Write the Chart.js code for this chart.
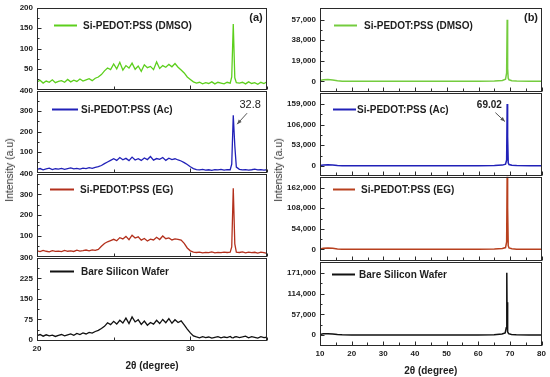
<!DOCTYPE html>
<html>
<head>
<meta charset="utf-8">
<script src="https://cdn.jsdelivr.net/npm/chart.js@4/dist/chart.umd.min.js"></script>
<style>
  html, body { margin: 0; padding: 0; background: #fff; }
  #fig { position: relative; width: 550px; height: 377px; overflow: hidden; font-family: "Liberation Sans", Arial, sans-serif; }
  .panel { position: absolute; }
  .ytitle { position: absolute; font-size: 10.5px; color: #333; white-space: nowrap; transform: translate(-50%, -50%) rotate(-90deg); }
</style>
</head>
<body>
<div id="fig"></div>
<script>
// ---- (a) low-angle scans, 2θ 20–35 ----
const thetaA = [
  20.0, 20.2, 20.4, 20.6, 20.8, 21.0, 21.2, 21.4, 21.6, 21.8,
  22.0, 22.2, 22.4, 22.6, 22.8, 23.0, 23.2, 23.4, 23.6, 23.8,
  24.0, 24.2, 24.4, 24.6, 24.8, 25.0, 25.2, 25.4, 25.6, 25.8,
  26.0, 26.2, 26.4, 26.6, 26.8, 27.0, 27.2, 27.4, 27.6, 27.8,
  28.0, 28.2, 28.4, 28.6, 28.8, 29.0, 29.2, 29.4, 29.6, 29.8,
  30.0, 30.2, 30.4, 30.6, 30.8, 31.0, 31.2, 31.4, 31.6, 31.8,
  32.0, 32.2, 32.4, 32.6, 32.7, 32.8, 32.9, 33.0, 33.2, 33.4, 33.6, 33.8,
  34.0, 34.2, 34.4, 34.6, 34.8, 35.0
];
const dmsoA = [
  18, 22, 15, 20, 17, 23, 16, 19, 21, 17,
  24, 18, 22, 19, 25, 20, 23, 26, 21, 27,
  30, 36, 45, 52, 48, 62, 50, 66, 47, 58,
  52, 64, 49, 57, 44, 60, 53, 56, 48, 67,
  51, 58, 54, 61, 55, 63, 54, 47, 40, 30,
  24, 18, 15, 17, 13, 16, 14, 18, 13, 17,
  15, 13, 17, 15, 30, 160, 28, 16, 15, 17, 13, 18,
  14, 16, 12, 17, 14, 18
];
const acA = [
  14, 18, 12, 16, 20, 13, 17, 15, 19, 14,
  18, 21, 16, 19, 15, 20, 18, 22, 19, 24,
  27, 33, 42, 50, 58, 66, 58, 72, 61, 68,
  57, 74, 60, 66, 58, 70, 62, 77, 59, 67,
  63, 72, 58, 69, 62, 66, 60, 55, 47, 38,
  27, 18, 13, 11, 14, 10, 12, 9, 13, 11,
  14, 10, 13, 12, 40, 280, 130, 25, 14, 11, 13, 10,
  12, 15, 11, 13, 10, 12
];
const egA = [
  26, 22, 28, 24, 21, 27, 23, 25, 22, 28,
  24, 26, 23, 29, 25, 27, 30, 26, 31, 28,
  33, 48, 62, 70, 76, 82, 75, 90, 84, 96,
  80, 102, 88, 94, 78, 86, 74, 83, 79, 92,
  81, 98, 85, 89, 79, 84, 82, 78, 62, 40,
  26, 20, 18, 20, 16, 19, 17, 21, 16, 19,
  17, 20, 18, 20, 45, 330, 60, 20, 18, 21, 16, 20,
  17, 19, 15, 20, 17, 14
];
const bareA = [
  16, 20, 14, 19, 15, 18, 13, 17, 20, 15,
  19, 22, 17, 24, 20, 26, 22, 28, 25, 31,
  35, 42, 50, 63, 56, 68, 58, 72, 62, 80,
  60, 84, 66, 74, 57, 69, 54, 64, 58, 72,
  60, 75, 63, 78, 61, 74, 64, 70, 55, 40,
  26, 15, 11, 8, 12, 9, 11, 7, 10, 12,
  8, 11, 9, 13, 9, 8, 11, 12, 9, 11, 14, 8,
  12, 10, 7, 12, 9, 10
];

// ---- (b) wide scans, 2θ 10–80 ----
const thetaB = [10, 11, 12.5, 14, 15.5, 17, 20, 30, 40, 50, 60, 65, 67.5, 68.5, 68.85, 69.02, 69.1, 69.22, 69.35, 69.6, 70.5, 72, 76, 80];
const dmsoB = [800, 1500, 1800, 1400, 700, 300, 200, 150, 150, 150, 200, 400, 900, 2000, 8000, 57000, 30000, 12000, 3000, 1500, 700, 400, 250, 200];
const acB   = [1000, 2500, 3000, 2400, 1200, 600, 400, 300, 300, 300, 400, 900, 2000, 4500, 15000, 159000, 60000, 75000, 8000, 3500, 1500, 800, 500, 400];
const egB   = [1500, 3500, 4000, 3000, 1500, 800, 500, 400, 400, 400, 500, 1200, 2500, 5000, 20000, 205000, 90000, 110000, 10000, 4000, 1800, 900, 600, 500];
const bareB = [1500, 3500, 4000, 3000, 1500, 800, 500, 400, 400, 400, 500, 1200, 3000, 6000, 20000, 171000, 70000, 90000, 9000, 4000, 2000, 1000, 600, 500];

// tick labels
const xTicksA = [20, 30];
const xMarksA = [20, 25, 30, 35];
const xTicksB = [10, 20, 30, 40, 50, 60, 70, 80];
const xMarksB = [10, 15, 20, 25, 30, 35, 40, 45, 50, 55, 60, 65, 70, 75, 80];
const yTicksA = [[50, 100, 150, 200], [100, 200, 300, 400], [100, 200, 300, 400], [0, 75, 150, 225, 300]];
const yTicksB = [[0, 19000, 38000, 57000], [0, 53000, 106000, 159000], [0, 54000, 108000, 162000], [0, 57000, 114000, 171000]];

const labels = ['Si-PEDOT:PSS (DMSO)', 'Si-PEDOT:PSS (Ac)', 'Si-PEDOT:PSS (EG)', 'Bare Silicon Wafer'];
const colorsA = ['#5ccf1c', '#2121b8', '#b3301c', '#111111'];
const colorsB = ['#74cc3e', '#2121b8', '#b8401e', '#111111'];

const PAD = 8;
const AXIS_H = 32;
const fig = document.getElementById('fig');

function arrow(ctx, x1, y1, x2, y2) {
  const ang = Math.atan2(y2 - y1, x2 - x1);
  ctx.beginPath();
  ctx.moveTo(x1, y1);
  ctx.lineTo(x2, y2);
  ctx.stroke();
  ctx.beginPath();
  ctx.moveTo(x2, y2);
  ctx.lineTo(x2 - 5 * Math.cos(ang - 0.4), y2 - 5 * Math.sin(ang - 0.4));
  ctx.lineTo(x2 - 5 * Math.cos(ang + 0.4), y2 - 5 * Math.sin(ang + 0.4));
  ctx.closePath();
  ctx.fill();
}

// frame, inward ticks, in-plot legend and notes
const framePlugin = {
  id: 'frame',
  afterDatasetsDraw(chart, args, o) {
    const { ctx, chartArea: a } = chart;
    const x = chart.scales.x, y = chart.scales.y;
    const L = Math.round(a.left) + 0.5, R = Math.round(a.right) - 0.5;
    const T = Math.round(a.top) + 0.5, B = Math.round(a.bottom) + 0.5;
    ctx.save();
    ctx.strokeStyle = '#2a2a2a';
    ctx.lineWidth = 1;
    ctx.strokeRect(L, T, R - L, B - T);

    ctx.beginPath();
    const yt = o.yMarks;
    yt.forEach((v, i) => {
      const p = Math.round(y.getPixelForValue(v)) + 0.5;
      ctx.moveTo(L, p); ctx.lineTo(L + 4, p);
      if (i > 0) {
        const q = Math.round(y.getPixelForValue((v + yt[i - 1]) / 2)) + 0.5;
        ctx.moveTo(L, q); ctx.lineTo(L + 2, q);
      }
    });
    o.xMarks.forEach(v => {
      const p = Math.round(x.getPixelForValue(v)) + 0.5;
      const len = o.xTicks.includes(v) ? 4 : 3;
      ctx.moveTo(p, B); ctx.lineTo(p, B - len);
    });
    ctx.stroke();

    // legend
    const ds = chart.data.datasets[0];
    const ly = Math.round(a.top + o.legend.y) + 0.5;
    ctx.strokeStyle = ds.borderColor;
    ctx.lineWidth = 2;
    ctx.beginPath();
    ctx.moveTo(a.left + o.legend.x1, ly);
    ctx.lineTo(a.left + o.legend.x2, ly);
    ctx.stroke();
    ctx.fillStyle = '#1e1e1e';
    ctx.font = 'bold 10px "Liberation Sans", Arial, sans-serif';
    ctx.textBaseline = 'middle';
    ctx.textAlign = 'left';
    ctx.fillText(ds.label, a.left + o.legend.tx, ly + 0.5);

    if (o.tag) {
      ctx.font = 'bold 11px "Liberation Sans", Arial, sans-serif';
      ctx.textAlign = 'center';
      ctx.fillText(o.tag, a.right - 11, a.top + 10);
    }
    if (o.note) {
      const n = o.note;
      ctx.font = n.font;
      ctx.textAlign = 'center';
      ctx.fillStyle = '#222';
      ctx.fillText(n.text, x.getPixelForValue(n.x), y.getPixelForValue(n.y));
      ctx.strokeStyle = '#555';
      ctx.fillStyle = '#555';
      ctx.lineWidth = 1;
      arrow(ctx, x.getPixelForValue(n.ax1), y.getPixelForValue(n.ay1), x.getPixelForValue(n.ax2), y.getPixelForValue(n.ay2));
    }
    ctx.restore();
  }
};

function makePanel(p) {
  const div = document.createElement('div');
  div.className = 'panel';
  const h = (p.bottom - p.top) + PAD + (p.last ? AXIS_H : PAD);
  div.style.left = p.col.left + 'px';
  div.style.top = (p.top - PAD) + 'px';
  div.style.width = p.col.width + 'px';
  div.style.height = h + 'px';
  const canvas = document.createElement('canvas');
  div.appendChild(canvas);
  fig.appendChild(div);

  new Chart(canvas, {
    type: 'line',
    data: {
      datasets: [{
        label: p.label,
        data: p.xs.map((v, i) => ({ x: v, y: p.ys[i] })),
        borderColor: p.color,
        borderWidth: p.lw,
        pointRadius: 0,
        tension: 0,
        fill: false
      }]
    },
    options: {
      responsive: true,
      maintainAspectRatio: false,
      animation: false,
      layout: { padding: { top: PAD, bottom: p.last ? 0 : PAD, left: 0, right: p.col.padRight } },
      plugins: {
        legend: { display: false },
        tooltip: { enabled: false },
        frame: {
          yMarks: p.yMarks, xMarks: p.col.xMarks, xTicks: p.col.xTicks,
          legend: p.legend, tag: p.tag, note: p.note
        }
      },
      scales: {
        x: {
          type: 'linear',
          min: p.col.xMin, max: p.col.xMax,
          display: !!p.last,
          afterBuildTicks: s => { s.ticks = p.col.xTicks.map(v => ({ value: v })); },
          afterFit: s => { if (p.last) s.height = AXIS_H; },
          ticks: { color: '#222', font: { family: '"Liberation Sans", Arial', size: 8, weight: 'bold' }, padding: 4, maxRotation: 0, autoSkip: false },
          grid: { display: false, drawTicks: false },
          border: { display: false },
          title: { display: true, text: '2θ (degree)', color: '#222', font: { family: '"Liberation Sans", Arial', size: 10, weight: 'bold' }, padding: 0 }
        },
        y: {
          min: p.yMin, max: p.yMax,
          afterBuildTicks: s => { s.ticks = p.yTicks.map(v => ({ value: v })); },
          afterFit: s => { s.width = p.col.yAxisW; },
          ticks: {
            color: '#222', padding: 4,
            font: { family: '"Liberation Sans", Arial', size: 8, weight: 'bold' },
            callback: v => v.toLocaleString('en-US')
          },
          grid: { display: false, drawTicks: false },
          border: { display: false }
        }
      }
    },
    plugins: [framePlugin]
  });
}

const colA = { left: 0, width: 275, yAxisW: 37, padRight: 8, xMin: 20, xMax: 35, xTicks: xTicksA, xMarks: xMarksA };
const colB = { left: 280, width: 270, yAxisW: 40, padRight: 8, xMin: 10, xMax: 80, xTicks: xTicksB, xMarks: xMarksB };

const bandsA = [[7, 90], [90, 173], [173, 257], [257, 340]];
const bandsB = [[7, 92], [92, 176], [176, 261], [261, 345]];
const yRangeA = [[0, 200], [0, 400], [0, 400], [0, 300]];
const yRangeB = [[-9000, 68000], [-24000, 188000], [-28000, 190000], [-27000, 201000]];
const seriesA = [dmsoA, acA, egA, bareA];
const seriesB = [dmsoB, acB, egB, bareB];
const legendA = [
  { x1: 17, x2: 40, tx: 46, y: 17 }, { x1: 15, x2: 41, tx: 44, y: 18 },
  { x1: 13, x2: 37, tx: 43, y: 15 }, { x1: 13, x2: 37, tx: 44, y: 13 }
];
const legendB = [
  { x1: 14, x2: 37, tx: 44, y: 17 }, { x1: 13, x2: 36, tx: 37, y: 16 },
  { x1: 13, x2: 35, tx: 41, y: 12 }, { x1: 12, x2: 35, tx: 39, y: 12 }
];
const yMarksA = [[0, 50, 100, 150, 200], [0, 100, 200, 300, 400], [0, 100, 200, 300, 400], [0, 75, 150, 225, 300]];

for (let i = 0; i < 4; i++) {
  makePanel({
    col: colA, top: bandsA[i][0], bottom: bandsA[i][1], last: i === 3,
    label: labels[i], color: colorsA[i], lw: 1.3, xs: thetaA, ys: seriesA[i],
    yMin: yRangeA[i][0], yMax: yRangeA[i][1], yTicks: yTicksA[i], yMarks: yMarksA[i],
    legend: legendA[i], tag: i === 0 ? '(a)' : null,
    note: i === 1 ? { text: '32.8', font: '11px "Liberation Sans", Arial', x: 33.9, y: 332, ax1: 33.7, ay1: 290, ax2: 33.05, ay2: 236 } : null
  });
  makePanel({
    col: colB, top: bandsB[i][0], bottom: bandsB[i][1], last: i === 3,
    label: labels[i], color: colorsB[i], lw: 1.5, xs: thetaB, ys: seriesB[i],
    yMin: yRangeB[i][0], yMax: yRangeB[i][1], yTicks: yTicksB[i], yMarks: yTicksB[i],
    legend: legendB[i], tag: i === 0 ? '(b)' : null,
    note: i === 1 ? { text: '69.02', font: 'bold 10px "Liberation Sans", Arial', x: 63.4, y: 155000, ax1: 65.3, ay1: 137000, ax2: 68.3, ay2: 114000 } : null
  });
}

// shared y titles
[[9, 170], [278, 170]].forEach(([cx, cy]) => {
  const t = document.createElement('div');
  t.className = 'ytitle';
  t.textContent = 'Intensity (a.u)';
  t.style.left = cx + 'px';
  t.style.top = cy + 'px';
  fig.appendChild(t);
});
</script>
</body>
</html>
